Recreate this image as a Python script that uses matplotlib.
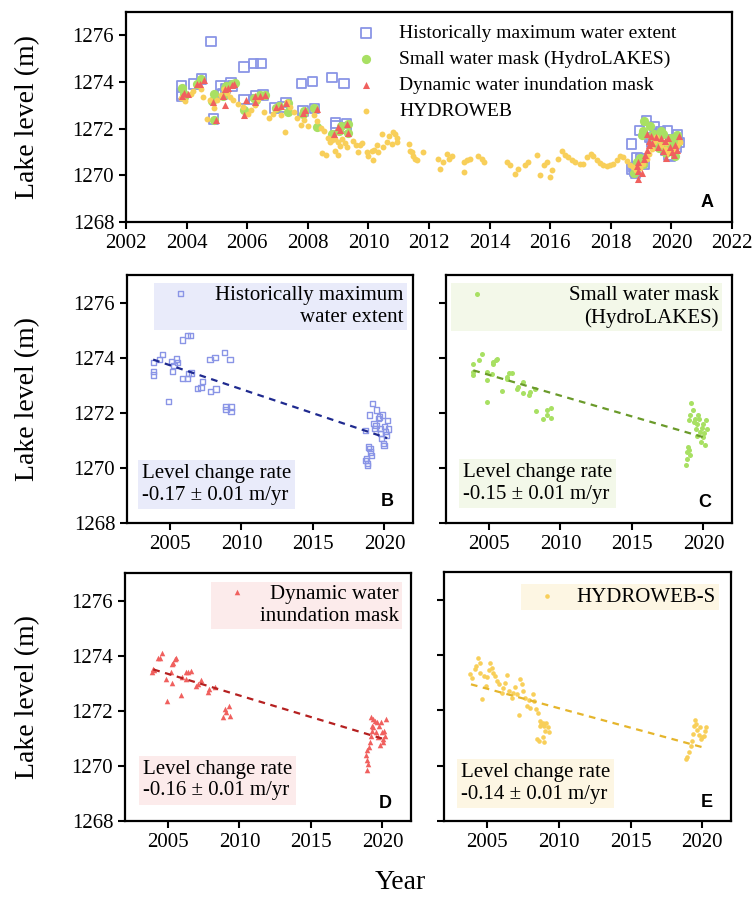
import numpy as np
import matplotlib
matplotlib.use("Agg")
import matplotlib.pyplot as plt

plt.rcParams['font.family'] = ['Liberation Serif', 'DejaVu Serif']

# ---------------- data ----------------
hist_year = [2003.83, 2003.83, 2003.83, 2004.25, 2004.49, 2004.81, 2004.88, 2005.12, 2005.19,
             2005.28, 2005.47, 2005.51, 2005.89, 2006.21, 2006.45, 2005.89, 2006.21, 2006.28,
             2006.52, 2006.91, 2007.17, 2007.28, 2007.80, 2008.15, 2007.84, 2008.22, 2008.80,
             2009.20, 2008.92, 2008.92, 2009.27, 2009.27,
             2018.68, 2018.75, 2018.68, 2018.80, 2018.82, 2018.87, 2018.99, 2019.03, 2019.10,
             2018.94, 2019.17, 2019.27, 2019.34, 2019.41, 2019.45, 2019.57, 2019.64, 2019.69,
             2019.73, 2019.80, 2019.87, 2019.92, 2019.97, 2020.03, 2020.10, 2020.15, 2020.20, 2020.27]
hist_level = [1273.82, 1273.49, 1273.37, 1273.92, 1274.12, 1275.73, 1272.42, 1273.85, 1273.49,
              1273.73, 1273.95, 1273.83, 1274.64, 1274.80, 1274.80, 1273.25, 1273.25, 1273.43,
              1273.44, 1272.88, 1272.92, 1273.13, 1273.94, 1274.01, 1272.76, 1272.86, 1274.19,
              1273.94, 1272.24, 1272.12, 1272.21, 1272.04,
              1271.35, 1270.34, 1270.28, 1270.16, 1270.10, 1270.76, 1270.70, 1270.58, 1270.46,
              1271.92, 1272.34, 1271.61, 1271.43, 1271.55, 1272.10, 1271.79, 1271.85, 1271.43,
              1271.25, 1271.07, 1271.92, 1270.88, 1270.82, 1271.49, 1271.31, 1271.19, 1271.73, 1271.41]

small_year = [2003.86, 2003.91, 2003.91, 2004.33, 2004.49, 2004.89, 2004.84, 2004.89, 2005.19,
              2005.26, 2005.31, 2005.50, 2005.59, 2005.89, 2006.24, 2006.29, 2006.43, 2006.59,
              2006.94, 2007.06, 2007.36, 2007.36, 2007.87, 2007.83, 2008.22, 2008.29, 2008.81,
              2009.04, 2009.09, 2009.32, 2009.32,
              2018.78, 2018.83, 2018.88, 2018.95, 2019.02, 2019.06, 2019.06, 2019.11, 2019.02,
              2019.30, 2019.34, 2019.41, 2019.48, 2019.53, 2019.58, 2019.65, 2019.72, 2019.76,
              2019.81, 2019.88, 2019.95, 2019.99, 2020.04, 2020.11, 2020.18, 2020.23]
small_level = [1273.76, 1273.49, 1273.37, 1273.92, 1274.12, 1272.38, 1273.19, 1273.49, 1273.39,
               1273.76, 1273.85, 1273.92, 1273.95, 1272.80, 1273.31, 1273.21, 1273.43, 1273.43,
               1272.88, 1272.95, 1273.10, 1272.70, 1272.76, 1272.64, 1272.88, 1272.07, 1271.79,
               1271.92, 1272.10, 1272.18, 1271.82,
               1270.12, 1270.34, 1270.56, 1270.76, 1270.64, 1270.48, 1271.92, 1272.34, 1271.73,
               1272.10, 1271.67, 1271.79, 1271.41, 1271.61, 1271.16, 1271.92, 1271.79, 1271.30,
               1270.95, 1271.43, 1271.13, 1271.61, 1271.25, 1270.82, 1271.73, 1271.41]

dyn_year = [2003.86, 2003.93, 2004.03, 2004.33, 2004.45, 2004.56, 2004.87, 2004.96, 2005.19,
            2005.26, 2005.26, 2005.38, 2005.50, 2005.57, 2005.89, 2005.96, 2006.27, 2006.27,
            2006.43, 2006.59, 2006.96, 2007.13, 2007.29, 2007.83, 2007.90, 2008.29, 2008.88,
            2009.00, 2009.06, 2009.30, 2009.34,
            2018.90, 2018.90, 2018.85, 2019.02, 2018.90, 2019.09, 2019.13, 2019.18, 2019.25,
            2019.32, 2019.18, 2019.25, 2019.37, 2019.48, 2019.55, 2019.65, 2019.72, 2019.79,
            2019.83, 2019.90, 2019.95, 2020.02, 2020.07, 2020.11, 2020.18, 2020.25]
dyn_level = [1273.39, 1273.51, 1273.48, 1273.93, 1273.93, 1274.09, 1273.15, 1272.37, 1273.41,
             1273.00, 1273.69, 1273.75, 1273.87, 1273.93, 1272.57, 1273.24, 1273.15, 1273.39,
             1273.41, 1273.45, 1272.91, 1272.97, 1273.12, 1272.67, 1272.79, 1272.85, 1271.76,
             1272.07, 1271.94, 1272.19, 1271.82,
             1269.84, 1270.20, 1270.38, 1270.08, 1270.56, 1270.68, 1270.86, 1271.76, 1271.46,
             1271.70, 1271.10, 1271.28, 1271.40, 1271.64, 1271.22, 1271.58, 1271.04, 1271.46,
             1270.74, 1271.58, 1271.22, 1270.98, 1270.86, 1271.28, 1271.10, 1271.70]

hydro_year = [2003.82, 2003.96, 2004.13, 2004.20, 2004.36, 2004.48, 2004.53, 2004.67, 2004.76,
              2004.91, 2005.00, 2005.14, 2005.24, 2005.33, 2005.42, 2005.54, 2005.71, 2005.85,
              2006.01, 2006.13, 2006.25, 2006.36, 2006.55, 2006.72, 2006.84, 2006.95, 2007.12,
              2007.26, 2007.31, 2007.42, 2007.54, 2007.66, 2007.78, 2007.89, 2008.01, 2008.20,
              2008.29, 2008.44, 2008.53, 2008.67, 2008.79, 2008.91, 2009.00, 2009.14, 2009.24,
              2009.31, 2008.48, 2008.60, 2008.91, 2009.00, 2008.72, 2009.07,
              2009.50, 2009.59, 2009.67, 2009.72, 2009.80, 2009.94, 2010.00, 2010.11, 2010.16,
              2010.20, 2010.27, 2010.33, 2010.44, 2010.49, 2010.60, 2010.69, 2010.77, 2010.80,
              2010.88, 2010.93, 2010.95, 2011.35, 2011.37, 2011.43, 2011.48, 2011.54, 2011.59,
              2011.81, 2012.30, 2012.36, 2012.47, 2012.58, 2012.67, 2012.75, 2013.14, 2013.14,
              2013.24, 2013.35, 2013.63, 2013.74, 2013.81,
              2014.56, 2014.67, 2014.84, 2014.95, 2015.17, 2015.28, 2015.55, 2015.67, 2015.78,
              2015.89, 2016.00, 2016.05, 2016.27, 2016.38, 2016.49, 2016.60, 2016.71, 2016.82,
              2016.98, 2017.09, 2017.23, 2017.34, 2017.42, 2017.53, 2017.64, 2017.75, 2017.86,
              2017.97, 2018.08, 2018.19, 2018.30, 2018.41, 2018.52, 2018.63, 2018.74,
              2018.84, 2018.95, 2019.07, 2019.19, 2019.26, 2019.35, 2019.42, 2019.49, 2019.59,
              2019.66, 2019.78, 2019.89, 2020.01, 2020.13, 2020.20, 2020.29, 2019.82]
hydro_level = [1273.30, 1273.18, 1273.48, 1273.60, 1273.88, 1273.72, 1273.36, 1272.40, 1273.24,
               1272.88, 1273.21, 1273.45, 1273.72, 1273.54, 1273.36, 1273.24, 1273.06, 1272.94,
               1272.64, 1272.82, 1273.00, 1273.28, 1272.70, 1272.46, 1272.64, 1272.85, 1272.58,
               1271.84, 1273.15, 1272.94, 1272.70, 1272.44, 1272.16, 1272.37, 1272.10, 1272.58,
               1272.34, 1272.04, 1271.92, 1271.62, 1271.50, 1271.56, 1271.44, 1271.56, 1271.38,
               1271.20, 1270.96, 1270.88, 1271.05, 1270.87, 1271.44, 1271.26,
               1271.49, 1271.28, 1270.99, 1271.28, 1271.40, 1270.99, 1270.85, 1271.06, 1270.64,
               1271.10, 1271.28, 1270.99, 1271.77, 1271.21, 1271.42, 1271.70, 1271.35, 1271.85,
               1271.77, 1271.42, 1271.60, 1271.35, 1271.06, 1270.99, 1270.85, 1270.71, 1270.64,
               1271.02, 1270.71, 1270.28, 1270.57, 1270.92, 1270.71, 1270.81, 1270.57, 1270.14,
               1270.64, 1270.71, 1270.85, 1270.71, 1270.57,
               1270.57, 1270.43, 1270.07, 1270.28, 1270.43, 1270.57, 1270.89, 1270.00, 1270.43,
               1270.57, 1269.93, 1270.21, 1270.71, 1271.04, 1270.89, 1270.78, 1270.64, 1270.57,
               1270.50, 1270.47, 1270.78, 1270.92, 1270.81, 1270.64, 1270.52, 1270.43, 1270.38,
               1270.43, 1270.50, 1270.67, 1270.85, 1270.78, 1270.61, 1270.43, 1270.35,
               1270.24, 1270.30, 1270.48, 1270.72, 1270.90, 1271.14, 1271.44, 1271.65, 1271.50,
               1271.29, 1271.12, 1270.96, 1271.02, 1271.08, 1271.26, 1271.41, 1271.38]

# HYDROWEB-S: HYDROWEB samples within the mask observation periods
hydro_s_periods = [(2003.5, 2009.35), (2018.8, 2020.5)]

trend_B_year = [2003.83, 2020.20]
trend_B_level = [1273.93, 1271.08]
trend_C_year = [2003.91, 2020.23]
trend_C_level = [1273.54, 1271.08]
trend_D_year = [2003.98, 2020.06]
trend_D_level = [1273.50, 1270.98]
trend_E_year = [2003.88, 2020.20]
trend_E_level = [1272.94, 1270.64]

rate_texts = ['-0.17 \u00b1 0.01 m/yr', '-0.15 \u00b1 0.01 m/yr',
              '-0.16 \u00b1 0.01 m/yr', '-0.14 \u00b1 0.01 m/yr']

labels_A = ['Historically maximum water extent', 'Small water mask (HydroLAKES)',
            'Dynamic water inundation mask', 'HYDROWEB']

# ---------------- style ----------------
C_BLUE = '#8a95e6'
C_GREEN = '#a8e063'
C_RED = '#f0605e'
C_YEL = '#f8cf5a'

hy = np.array(hydro_year)
hl = np.array(hydro_level)
mask_s = np.zeros(len(hy), dtype=bool)
for a, b in hydro_s_periods:
    mask_s |= (hy >= a) & (hy <= b)

fig = plt.figure(figsize=(7.55, 8.97), dpi=100)
W, H = 755.0, 897.0
axA = fig.add_axes([126 / W, 1 - 222 / H, 606 / W, 210 / H])
axB = fig.add_axes([127 / W, 1 - 523 / H, 286 / W, 248 / H])
axC = fig.add_axes([446 / W, 1 - 523 / H, 286 / W, 248 / H])
axD = fig.add_axes([125 / W, 1 - 821 / H, 286 / W, 248 / H])
axE = fig.add_axes([444 / W, 1 - 821 / H, 287 / W, 249 / H])


def style(ax):
    for s in ax.spines.values():
        s.set_linewidth(1.6)
    ax.tick_params(direction='out', length=5, width=1.5, labelsize=15, colors='black')
    ax.set_ylim(1268, 1277)
    ax.set_yticks([1268, 1270, 1272, 1274, 1276])
    ax.set_xlim(2002, 2022)


# Panel A
style(axA)
axA.set_xticks(np.arange(2002, 2023, 2))
sA1 = axA.scatter(hist_year, hist_level, s=46, marker='s', facecolors='none',
                  edgecolors=C_BLUE, linewidths=1.3, zorder=2)
sA2 = axA.scatter(small_year, small_level, s=44, marker='o', color=C_GREEN,
                  linewidths=0, zorder=3)
sA4 = axA.scatter(hy, hl, s=18, marker='o', color=C_YEL, linewidths=0, zorder=4)
sA3 = axA.scatter(dyn_year, dyn_level, s=26, marker='^', color=C_RED,
                  linewidths=0, zorder=5)
axA.legend([sA1, sA2, sA3, sA4], labels_A, loc='upper left',
           bbox_to_anchor=(0.380, 0.940), frameon=False, fontsize=14,
           handlelength=1.0, handletextpad=1.2, borderpad=0, borderaxespad=0,
           labelspacing=0.42, scatterpoints=1)
axA.text(0.959, 0.095, 'A', transform=axA.transAxes, ha='center', va='center',
         fontsize=13, fontweight='bold', family='Liberation Sans')

# Panels B-E
panels = [
    (axB, 'B', C_BLUE, '#1f2a8f', '#e9ebfa', trend_B_year, trend_B_level,
     'Historically maximum\nwater extent', (0.979, 0.968), 0.59, (0.052, 0.155)),
    (axC, 'C', C_GREEN, '#6a9a2a', '#f3f8e9', trend_C_year, trend_C_level,
     'Small water mask\n(HydroLAKES)', (0.965, 0.968), 3.3, (0.059, 0.159)),
    (axD, 'D', C_RED, '#b52020', '#fcebeb', trend_D_year, trend_D_level,
     'Dynamic water\ninundation mask', (0.969, 0.964), 0.0, (0.063, 0.165)),
    (axE, 'E', C_YEL, '#e5b52c', '#fdf6e3', trend_E_year, trend_E_level,
     'HYDROWEB-S', (0.958, 0.952), 0.34, (0.059, 0.149)),
]
letter_pos = {'B': (0.909, 0.085), 'C': (0.906, 0.081), 'D': (0.909, 0.069), 'E': (0.917, 0.073)}

for i, (ax, let, col, tcol, bg, ty, tl, leglab, anchor, tpad, rpos) in enumerate(panels):
    style(ax)
    ax.set_xticks([2005, 2010, 2015, 2020])
    if let == 'B':
        sc = ax.scatter(hist_year, hist_level, s=14, marker='s', facecolors='none',
                        edgecolors=col, linewidths=1.0, zorder=3)
    elif let == 'C':
        sc = ax.scatter(small_year, small_level, s=13, marker='o', color=col,
                        linewidths=0, zorder=3)
    elif let == 'D':
        sc = ax.scatter(dyn_year, dyn_level, s=16, marker='^', color=col,
                        linewidths=0, zorder=3)
    else:
        sc = ax.scatter(hy[mask_s], hl[mask_s], s=11, marker='o', color=col,
                        linewidths=0, zorder=3)
    ax.plot(ty, tl, ls=(0, (3, 2.5)), lw=1.6, color=tcol, zorder=4)
    if let in ('C', 'E'):
        ax.tick_params(labelleft=False)
    multiline = '\n' in leglab
    leg = ax.legend([sc], [leglab], loc='upper right', bbox_to_anchor=anchor,
                    frameon=True, fancybox=False, facecolor=bg, edgecolor='none',
                    framealpha=1, fontsize=15, handlelength=2.2, handletextpad=tpad,
                    handleheight=1.12 if multiline else 0.7,
                    scatteryoffsets=[1.0] if multiline else None,
                    borderpad=0.15, borderaxespad=0, scatterpoints=1)
    for t in leg.get_texts():
        t.set_multialignment('right')
    ax.text(rpos[0], rpos[1], 'Level change rate\n' + rate_texts[i], transform=ax.transAxes,
            ha='left', va='center', fontsize=15, linespacing=1.2,
            bbox=dict(boxstyle='square,pad=0.2', fc=bg, ec='none'))
    lp = letter_pos[let]
    ax.text(lp[0], lp[1], let, transform=ax.transAxes, ha='center', va='center',
            fontsize=13, fontweight='bold', family='Liberation Sans')

# axis labels
for yc in [(12 + 222) / 2, (275 + 523) / 2, (573 + 821) / 2]:
    fig.text(28 / W, 1 - yc / H, 'Lake level (m)', rotation=90, ha='center', va='center',
             fontsize=20)
fig.text(400 / W, 1 - 882 / H, 'Year', ha='center', va='center', fontsize=20)

fig.savefig('out.png', dpi=100)
